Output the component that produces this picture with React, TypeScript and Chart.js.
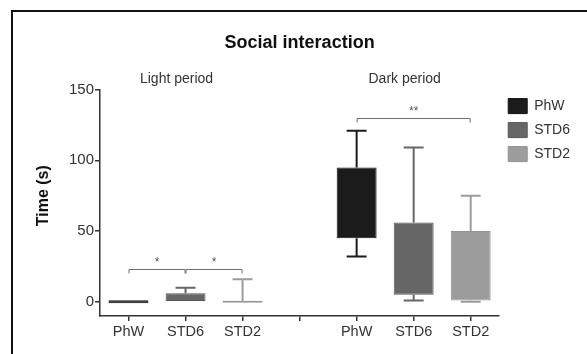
import React, { useEffect, useRef } from "react";
import { Chart, registerables } from "chart.js";

Chart.register(...registerables);

// ---- data ----
const categories = ["PhW", "STD6", "STD2", "", "PhW", "STD6", "STD2"];
const periodLabels = ["Light period", "Dark period"];
const seriesNames = ["PhW", "STD6", "STD2"];
// values per series: [light period, dark period]
const phwQ1 = [0, 45];
const phwQ3 = [0, 95];
const phwMin = [0, 32];
const phwMax = [0, 121];
const std6Q1 = [0, 5];
const std6Q3 = [6, 56];
const std6Min = [0, 1];
const std6Max = [10, 109];
const std2Q1 = [0, 1];
const std2Q3 = [0, 50];
const std2Min = [0, 0];
const std2Max = [16, 75];
const yTickValues = [0, 50, 100, 150];
// significance brackets: from category, to category, height, label
const bracketFrom = [0, 1, 4];
const bracketTo = [1, 2, 6];
const bracketValue = [23, 23, 130];
const bracketLabel = ["*", "*", "**"];

// ---- style ----
const seriesColors = ["#1b1b1b", "#666666", "#9c9c9c"];
const seriesBorders = ["#111111", "#585858", "#939393"];
const seriesMinBar = [3, 0, 2];
const FONT = "'Liberation Sans', Arial, Helvetica, sans-serif";

const q1s = [phwQ1, std6Q1, std2Q1];
const q3s = [phwQ3, std6Q3, std2Q3];
const mins = [phwMin, std6Min, std2Min];
const maxs = [phwMax, std6Max, std2Max];

function catIndex(series: number, period: number) {
  return period === 0 ? series : 4 + series;
}

const boxPlugin = {
  id: "boxExtras",
  beforeDraw(chart: any) {
    const ctx = chart.ctx;
    ctx.save();
    ctx.strokeStyle = "#111";
    ctx.lineWidth = 2;
    ctx.beginPath();
    ctx.moveTo(12, 10);
    ctx.lineTo(12, chart.height);
    ctx.moveTo(11, 11);
    ctx.lineTo(chart.width, 11);
    ctx.stroke();
    ctx.restore();
  },
  afterDatasetsDraw(chart: any) {
    const ctx = chart.ctx;
    const y = chart.scales.y;
    const x = chart.scales.x;
    ctx.save();
    // whiskers
    chart.data.datasets.forEach((ds: any, s: number) => {
      const meta = chart.getDatasetMeta(s);
      [0, 1].forEach((p) => {
        const idx = catIndex(s, p);
        const bar = meta.data[idx];
        if (!bar) return;
        const cx = bar.x;
        const half = bar.width / 4;
        ctx.strokeStyle = seriesColors[s];
        ctx.lineWidth = 2;
        const segs: [number, number][] = [];
        if (maxs[s][p] > q3s[s][p]) segs.push([q3s[s][p], maxs[s][p]]);
        if (mins[s][p] < q1s[s][p]) segs.push([q1s[s][p], mins[s][p]]);
        segs.forEach(([from, to]) => {
          const y0 = y.getPixelForValue(from);
          const y1 = y.getPixelForValue(to);
          ctx.beginPath();
          ctx.moveTo(cx, y0);
          ctx.lineTo(cx, y1);
          ctx.moveTo(cx - half, y1);
          ctx.lineTo(cx + half, y1);
          ctx.stroke();
        });
      });
    });
    // brackets
    ctx.strokeStyle = "#6e6e6e";
    ctx.lineWidth = 1;
    ctx.fillStyle = "#555";
    ctx.font = `12px ${FONT}`;
    ctx.textAlign = "center";
    ctx.textBaseline = "middle";
    bracketFrom.forEach((f, i) => {
      const x0 = x.getPixelForValue(f);
      const x1 = x.getPixelForValue(bracketTo[i]);
      const yy = Math.round(y.getPixelForValue(bracketValue[i])) + 0.5;
      ctx.beginPath();
      ctx.moveTo(x0 + 0.5, yy + 4);
      ctx.lineTo(x0 + 0.5, yy);
      ctx.lineTo(x1 - 0.5, yy);
      ctx.lineTo(x1 - 0.5, yy + 4);
      ctx.stroke();
      ctx.fillText(bracketLabel[i], (x0 + x1) / 2, yy - 7);
    });
    // period labels
    ctx.fillStyle = "#333";
    ctx.font = `14px ${FONT}`;
    ctx.fillText(periodLabels[0], x.getPixelForValue(1) - 9, 79);
    ctx.fillText(periodLabels[1], x.getPixelForValue(5) - 9, 79);
    // y title
    ctx.save();
    ctx.translate(44, (y.getPixelForValue(0) + y.getPixelForValue(150)) / 2);
    ctx.rotate(-Math.PI / 2);
    ctx.font = `bold 16px ${FONT}`;
    ctx.fillStyle = "#111";
    ctx.fillText("Time (s)", 0, 0);
    ctx.restore();
    ctx.restore();
  },
};

export default function App() {
  const ref = useRef<HTMLCanvasElement | null>(null);
  useEffect(() => {
    if (!ref.current) return;
    const datasets = seriesNames.map((name, s) => {
      const data: any[] = categories.map(() => null);
      [0, 1].forEach((p) => {
        data[catIndex(s, p)] = [q1s[s][p], q3s[s][p]];
      });
      return {
        label: name,
        data,
        backgroundColor: seriesColors[s],
        borderColor: seriesBorders[s],
        borderWidth: 1,
        borderSkipped: false,
        grouped: false,
        minBarLength: seriesMinBar[s],
        barPercentage: 0.7,
        categoryPercentage: 1,
      };
    });
    const chart = new Chart(ref.current, {
      type: "bar",
      data: { labels: categories, datasets: datasets as any },
      plugins: [boxPlugin as any],
      options: {
        animation: false,
        responsive: true,
        maintainAspectRatio: false,
        layout: { padding: { left: 0, right: 7, top: 0, bottom: 0 } },
        plugins: {
          title: {
            display: true,
            text: "Social interaction",
            fullSize: false,
            color: "#111",
            font: { family: FONT, size: 18, weight: "bold" },
            padding: { top: 32, bottom: 36 },
          },
          legend: {
            display: true,
            position: "right",
            align: "start",
            fullSize: false,
            labels: {
              boxWidth: 19,
              boxHeight: 15,
              padding: 9,
              color: "#333",
              font: { family: FONT, size: 14 },
            },
          },
          tooltip: { enabled: false },
        },
        scales: {
          x: {
            type: "category",
            offset: true,
            grid: {
              display: true,
              offset: false,
              drawOnChartArea: false,
              drawTicks: true,
              tickLength: 5,
              color: "#333",
              lineWidth: 1.5,
            },
            border: { display: true, color: "#333", width: 1.5 },
            ticks: {
              color: "#333",
              font: { family: FONT, size: 14.5 },
              padding: 2,
              autoSkip: false,
              maxRotation: 0,
            },
            afterFit: (s: any) => {
              s.height = 38;
            },
          },
          y: {
            min: -10,
            max: 150,
            grid: {
              display: true,
              drawOnChartArea: false,
              drawTicks: true,
              tickLength: 5,
              color: "#333",
              lineWidth: 1.5,
            },
            border: { display: true, color: "#333", width: 1.5 },
            ticks: {
              color: "#333",
              font: { family: FONT, size: 15 },
              padding: 1,
            },
            afterBuildTicks: (s: any) => {
              s.ticks = yTickValues.map((v) => ({ value: v }));
            },
            afterFit: (s: any) => {
              s.width = 100;
            },
          },
        },
      },
    });
    return () => chart.destroy();
  }, []);
  return (
    <div style={{ position: "absolute", left: 0, top: 0, width: 587, height: 354, background: "#fff" }}>
      <canvas ref={ref} />
    </div>
  );
}
